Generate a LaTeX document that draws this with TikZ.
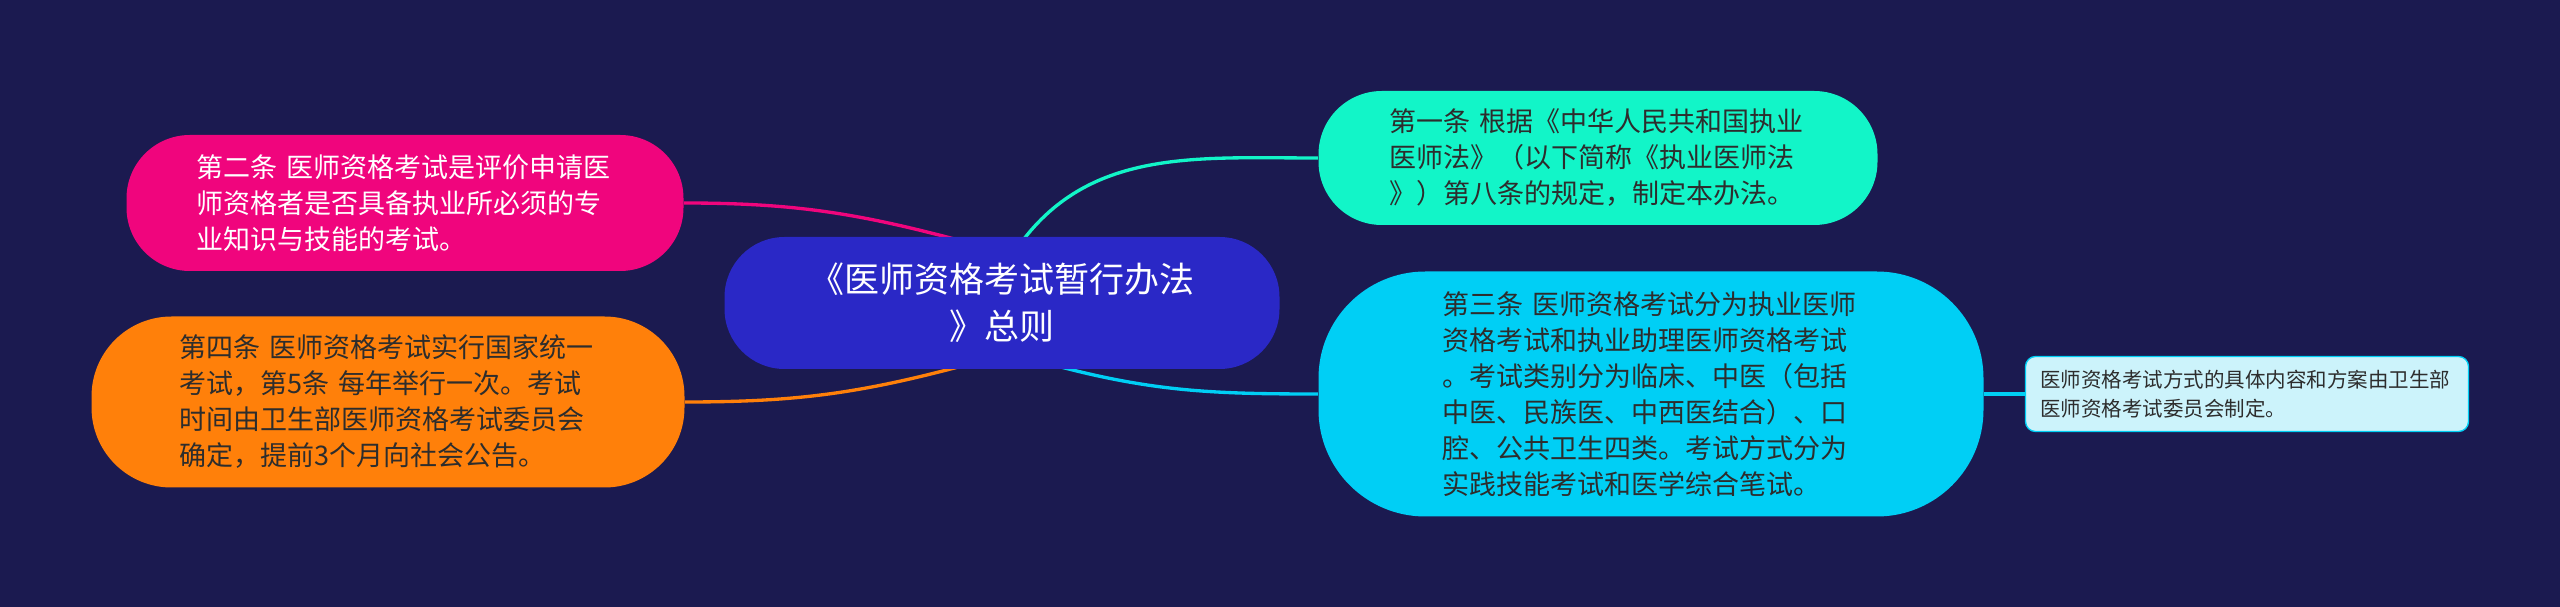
\documentclass[tikz,border=0pt]{standalone}
\usepackage{fontspec}
\setmainfont{Noto Sans CJK SC}
\usetikzlibrary{calc,backgrounds}
\definecolor{bgc}{RGB}{27,26,80}
\definecolor{centc}{RGB}{42,40,198}
\definecolor{pinkc}{RGB}{240,5,125}
\definecolor{orangec}{RGB}{255,128,10}
\definecolor{tealc}{RGB}{18,245,200}
\definecolor{cyanc}{RGB}{0,207,245}
\definecolor{smallc}{RGB}{204,243,251}
\definecolor{darktext}{RGB}{45,45,45}
\tikzset{
  bubble/.style={shape=rectangle, align=left, inner sep=0pt},
  bodytext/.style={font=\fontsize{8.1pt}{10.8pt}\selectfont},
  link/.style={line width=1pt}
}
\begin{document}
\begin{tikzpicture}[x=0.3pt,y=-0.3pt]
\useasboundingbox (0,0) rectangle (2560,607);
% central node
\node[bubble, fill=centc, text=white, align=center, minimum width=166.5pt, minimum height=39.6pt, rounded corners=18pt,
  font=\fontsize{10.5pt}{14.1pt}\selectfont] (c) at (1002,303) {《医师资格考试暂行办法\\》总则};
% pink
\node[bubble, bodytext, fill=pinkc, text=white, minimum width=167.1pt, minimum height=40.8pt, rounded corners=19pt,
  text width=125pt] (pink) at (405,203) {第二条 医师资格考试是评价申请医\\师资格者是否具备执业所必须的专\\业知识与技能的考试。};
% orange
\node[bubble, bodytext, fill=orangec, text=darktext, minimum width=177.9pt, minimum height=51.3pt, rounded corners=24pt,
  text width=125pt] (orange) at (388,402) {第四条 医师资格考试实行国家统一\\考试，第5条 每年举行一次。考试\\时间由卫生部医师资格考试委员会\\确定，提前3个月向社会公告。};
% teal
\node[bubble, bodytext, fill=tealc, text=darktext, minimum width=167.7pt, minimum height=40.2pt, rounded corners=19pt,
  text width=125pt] (teal) at (1598,158) {第一条 根据《中华人民共和国执业\\医师法》（以下简称《执业医师法\\》）第八条的规定，制定本办法。};
% cyan
\node[bubble, bodytext, fill=cyanc, text=darktext, minimum width=199.5pt, minimum height=73.5pt, rounded corners=32pt,
  text width=125pt] (cyan) at (1651,394) {第三条 医师资格考试分为执业医师\\资格考试和执业助理医师资格考试\\。考试类别分为临床、中医（包括\\中医、民族医、中西医结合）、口\\腔、公共卫生四类。考试方式分为\\实践技能考试和医学综合笔试。};
% small
\node[bubble, fill=smallc, draw=cyanc, line width=0.4pt, text=darktext, minimum width=132.9pt, minimum height=22.5pt, rounded corners=3pt,
  text width=124pt, font=\fontsize{6.15pt}{8.7pt}\selectfont] (small) at (2247,394) {医师资格考试方式的具体内容和方案由卫生部\\医师资格考试委员会制定。};
\begin{scope}[on background layer]
\fill[bgc] (0,0) rectangle (2560,607);
\draw[link, draw=pinkc] (pink.east) to[out=0, in=165] ($(c.north)+(-35,6)$);
\draw[link, draw=tealc] ($(c.north)+(15,12)$) to[out=55, in=180] (teal.west);
\draw[link, draw=orangec] (orange.east) to[out=0, in=195] ($(c.south)+(-35,-5)$);
\draw[link, draw=cyanc] ($(c.south)+(50,-5)$) to[out=-15, in=180] (cyan.west);
\draw[link, draw=cyanc] (cyan.east) -- (small.west);
\end{scope}
\end{tikzpicture}
\end{document}
